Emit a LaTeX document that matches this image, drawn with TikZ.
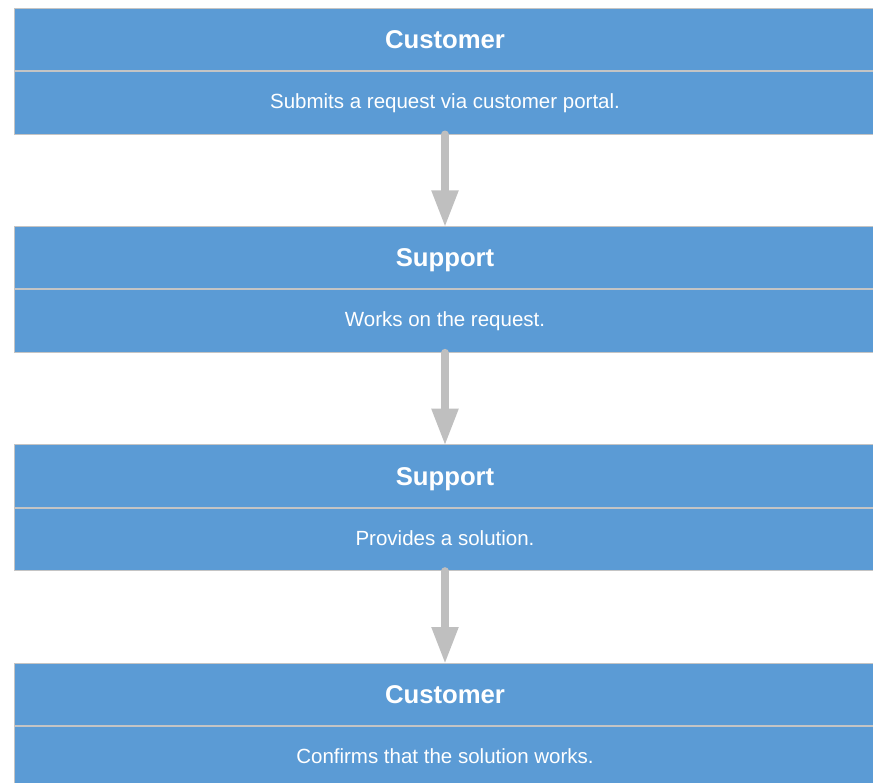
\documentclass[tikz,border=0pt]{standalone}
\usepackage{fontspec}
\setmainfont{Liberation Sans}
\usetikzlibrary{positioning}
\usetikzlibrary{arrows.meta}
\definecolor{boxblue}{HTML}{5B9BD5}
\definecolor{arrowgray}{HTML}{BFBFBF}
\definecolor{edgegray}{HTML}{C4C4C4}

\begin{document}
\begin{tikzpicture}[x=1pt,y=-1pt,
  head/.style={rectangle,draw=edgegray,line width=1pt,fill=boxblue,minimum width=862pt,minimum height=62.5pt,inner sep=0pt,text=white,text height=18.3pt,text depth=0pt,font=\fontsize{25.7}{30}\selectfont\bfseries},
  body/.style={head,text height=11.7pt,font=\fontsize{20.5}{24}\selectfont},
  flow/.style={draw=arrowgray,line width=8pt,line cap=round,-{Triangle[length=37pt,width=25pt]}}]
\useasboundingbox (0,0) rectangle (873,782);
\clip (0,0) rectangle (873,782);

% four steps, header on top and text below
\node[head] (h1) at (445,39.25) {Customer};
\node[body,below=0pt of h1] (b1) {Submits a request via customer portal.};
\node[head] (h2) at (445,257.6) {Support};
\node[body,below=0pt of h2] (b2) {Works on the request.};
\node[head] (h3) at (445,475.9) {Support};
\node[body,below=0pt of h3] (b3) {Provides a solution.};
\node[head] (h4) at (445,694.25) {Customer};
\node[body,below=0pt of h4] (b4) {Confirms that the solution works.};

% arrows between the steps
\draw[flow] (b1.south) -- ([yshift=-1.5pt]h2.north);
\draw[flow] (b2.south) -- ([yshift=-1.5pt]h3.north);
\draw[flow] (b3.south) -- ([yshift=-1.5pt]h4.north);

\end{tikzpicture}
\end{document}
